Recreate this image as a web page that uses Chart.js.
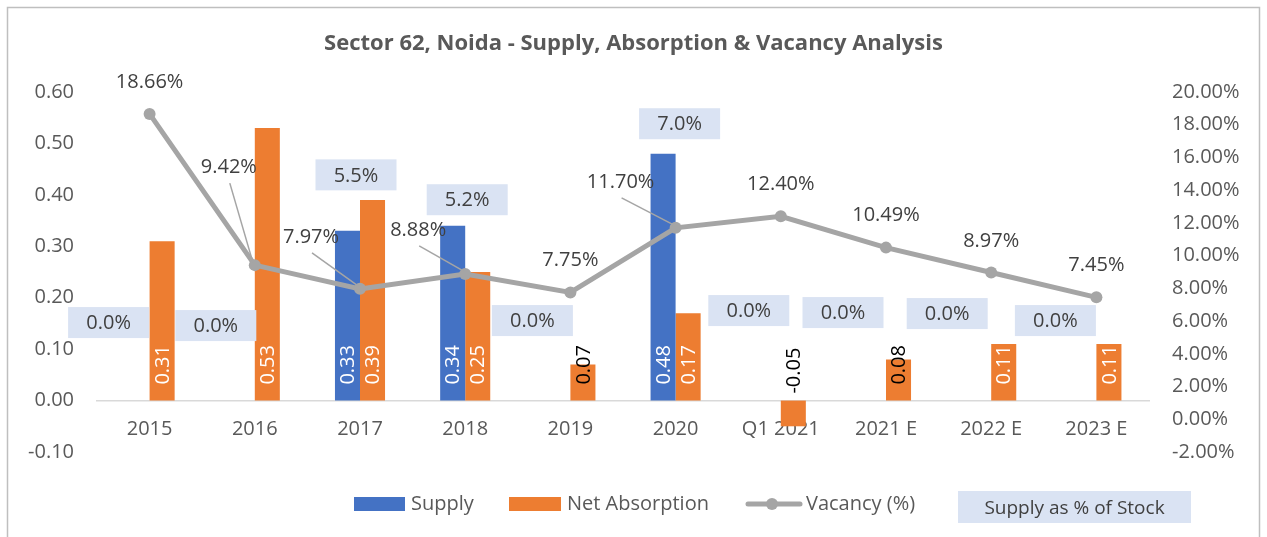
<!DOCTYPE html>
<html lang="en">
<head>
    <meta charset="UTF-8">
    <title>Sector 62, Noida - Supply, Absorption & Vacancy Analysis</title>
    <script src="https://cdn.jsdelivr.net/npm/chart.js"></script>
    <style>
        body {
            margin: 0;
            padding: 0;
            background-color: #fff;
        }
        #chart-box {
            width: 1267px;
            height: 537px;
        }
    </style>
</head>
<body>
    <div id="chart-box"><canvas id="chart" width="1267" height="537"></canvas></div>

    <script>
        // Market figures (msf) and vacancy (%)
        const categories = ["2015", "2016", "2017", "2018", "2019", "2020", "Q1 2021", "2021 E", "2022 E", "2023 E"];
        const supply = [0, 0, 0.33, 0.34, 0, 0.48, 0, 0, 0, 0];
        const netAbsorption = [0.31, 0.53, 0.39, 0.25, 0.07, 0.17, -0.05, 0.08, 0.11, 0.11];
        const vacancy = [18.66, 9.42, 7.97, 8.88, 7.75, 11.70, 12.40, 10.49, 8.97, 7.45];
        const supplyPctOfStock = [0.0, 0.0, 5.5, 5.2, 0.0, 7.0, 0.0, 0.0, 0.0, 0.0];

        // Hand-placed label offsets in px (dx, dy)
        const vacancyLabelShift = [[0, -32], [-26, -98], [-49, -52], [-47, -44], [0, -32], [-55, -46], [0, -32], [0, -32], [0, -31], [0, -32]];
        const vacancyLeader = [false, true, true, true, false, true, false, false, false, false];
        const stockBoxShift = [[-41, -78], [-39, -75], [-4, -56], [2, -26], [-38, -80], [4, -30], [-32, -90], [-43, -88], [-44, -87], [-41, -80]];

        const ink = "#595959";
        const labelInk = "#404040";
        const face = '"Open Sans", sans-serif';

        // White background and the light frame round the chart
        const framePlugin = {
            id: "frame",
            beforeDraw(chart) {
                const ctx = chart.ctx;
                ctx.save();
                ctx.fillStyle = "#fff";
                ctx.fillRect(0, 0, chart.width, chart.height);
                ctx.strokeStyle = "#bfbfbf";
                ctx.lineWidth = 1.5;
                ctx.strokeRect(7.5, 7.5, 1252, 560);
                ctx.restore();
            }
        };

        // Data labels: bar values, vacancy values with leader lines, supply-as-%-of-stock boxes
        const labelPlugin = {
            id: "labels",
            afterDatasetsDraw(chart) {
                const ctx = chart.ctx;
                const xs = chart.scales.x;
                const zero = chart.scales.y.getPixelForValue(0);
                ctx.save();
                ctx.font = "20px " + face;

                [1, 2].forEach((di) => {
                    const values = chart.data.datasets[di].data;
                    chart.getDatasetMeta(di).data.forEach((bar, i) => {
                        const v = values[i];
                        if (!v) return;
                        ctx.save();
                        ctx.translate(bar.x, v < 0 ? zero - 7 : zero - 16);
                        ctx.rotate(-Math.PI / 2);
                        ctx.textAlign = "left";
                        ctx.textBaseline = "middle";
                        ctx.fillStyle = Math.abs(v) < 0.1 ? "#000" : "#fff";
                        ctx.fillText(v.toFixed(2), 0, 1);
                        ctx.restore();
                    });
                });

                ctx.textAlign = "center";
                ctx.textBaseline = "middle";
                chart.getDatasetMeta(0).data.forEach((pt, i) => {
                    const [dx, dy] = vacancyLabelShift[i];
                    const cx = pt.x + dx;
                    const cy = pt.y + dy;
                    if (vacancyLeader[i]) {
                        ctx.strokeStyle = "#a5a5a5";
                        ctx.lineWidth = 1.5;
                        ctx.beginPath();
                        ctx.moveTo(cx + 1, cy + 16);
                        ctx.lineTo(pt.x - 2, pt.y - 3);
                        ctx.stroke();
                    }
                    ctx.fillStyle = labelInk;
                    ctx.fillText(vacancy[i].toFixed(2) + "%", cx, cy);
                });

                chart.getDatasetMeta(1).data.forEach((bar, i) => {
                    const [dx, dy] = stockBoxShift[i];
                    const cx = xs.getPixelForValue(i) + dx;
                    const cy = Math.min(bar.y, zero) + dy;
                    ctx.fillStyle = "#dae3f3";
                    ctx.fillRect(cx - 40.5, cy - 15.5, 81, 31);
                    ctx.fillStyle = labelInk;
                    ctx.fillText(supplyPctOfStock[i].toFixed(1) + "%", cx, cy + 1);
                });
                ctx.restore();
            }
        };

        // Legend row under the plot
        const legendPlugin = {
            id: "legendRow",
            afterDraw(chart) {
                const ctx = chart.ctx;
                const ds = chart.data.datasets;
                const midY = 504;
                ctx.save();
                ctx.font = "20px " + face;
                ctx.textBaseline = "middle";
                ctx.textAlign = "left";

                ctx.fillStyle = ds[1].backgroundColor;
                ctx.fillRect(354, 497, 51, 14);
                ctx.fillStyle = ink;
                ctx.fillText(ds[1].label, 411, midY);

                ctx.fillStyle = ds[2].backgroundColor;
                ctx.fillRect(509, 497, 52, 14);
                ctx.fillStyle = ink;
                ctx.fillText(ds[2].label, 567, midY);

                ctx.strokeStyle = ds[0].borderColor;
                ctx.lineWidth = 5;
                ctx.lineCap = "round";
                ctx.beginPath();
                ctx.moveTo(748, midY);
                ctx.lineTo(800, midY);
                ctx.stroke();
                ctx.fillStyle = ds[0].borderColor;
                ctx.beginPath();
                ctx.arc(772, midY, 6, 0, Math.PI * 2);
                ctx.fill();
                ctx.fillStyle = ink;
                ctx.fillText(ds[0].label, 806, midY);

                ctx.fillStyle = "#dae3f3";
                ctx.fillRect(958, 491, 233, 32);
                ctx.fillStyle = labelInk;
                ctx.textAlign = "center";
                ctx.font = "19px " + face;
                ctx.fillText("Supply as % of Stock", 1074.5, 509);
                ctx.restore();
            }
        };

        new Chart(document.getElementById("chart"), {
            type: "bar",
            data: {
                labels: categories,
                datasets: [
                    {
                        type: "line",
                        label: "Vacancy (%)",
                        data: vacancy,
                        yAxisID: "y1",
                        borderColor: "#a5a5a5",
                        backgroundColor: "#a5a5a5",
                        borderWidth: 5,
                        pointRadius: 6,
                        pointBorderWidth: 0,
                        pointBackgroundColor: "#a5a5a5",
                        tension: 0,
                        order: 0
                    },
                    {
                        label: "Supply",
                        data: supply,
                        yAxisID: "y",
                        backgroundColor: "#4472c4",
                        categoryPercentage: 0.476,
                        barPercentage: 1,
                        order: 1
                    },
                    {
                        label: "Net Absorption",
                        data: netAbsorption,
                        yAxisID: "y",
                        backgroundColor: "#ed7d31",
                        categoryPercentage: 0.476,
                        barPercentage: 1,
                        order: 1
                    }
                ]
            },
            options: {
                responsive: false,
                animation: false,
                devicePixelRatio: 1,
                layout: { padding: { left: 0, right: 0, top: 0, bottom: 85 } },
                plugins: {
                    legend: { display: false },
                    tooltip: { enabled: false },
                    title: {
                        display: true,
                        text: "Sector 62, Noida - Supply, Absorption & Vacancy Analysis",
                        color: ink,
                        font: { family: face, size: 22, weight: "bold" },
                        padding: { top: 31, bottom: 34.6 }
                    }
                },
                scales: {
                    x: {
                        position: { y: 0 },
                        grid: { display: false, drawTicks: false },
                        border: { color: "#d9d9d9", width: 1.5 },
                        ticks: { color: ink, font: { family: face, size: 20 }, padding: 17, maxRotation: 0, autoSkip: false }
                    },
                    y: {
                        position: "left",
                        min: -0.1,
                        max: 0.6,
                        grid: { display: false, drawTicks: false },
                        border: { display: false },
                        afterFit(scale) { scale.width = 97; },
                        ticks: {
                            stepSize: 0.1,
                            padding: 23,
                            color: ink,
                            font: { family: face, size: 20 },
                            callback: (v) => (Math.round(v * 100) / 100 + 0).toFixed(2)
                        }
                    },
                    y1: {
                        position: "right",
                        min: -2,
                        max: 20,
                        grid: { display: false, drawTicks: false },
                        border: { display: false },
                        afterFit(scale) { scale.width = 118; },
                        ticks: {
                            stepSize: 2,
                            padding: 23,
                            color: ink,
                            font: { family: face, size: 20 },
                            callback: (v) => (Math.round(v * 100) / 100 + 0).toFixed(2) + "%"
                        }
                    }
                }
            },
            plugins: [framePlugin, labelPlugin, legendPlugin]
        });
    </script>
</body>
</html>
